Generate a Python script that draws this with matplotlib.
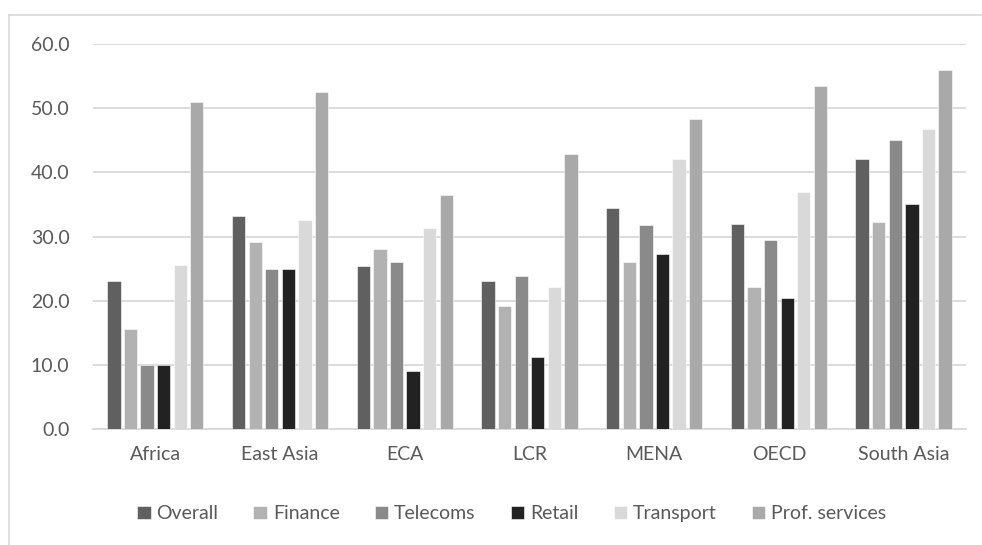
import matplotlib
matplotlib.use("Agg")
import matplotlib.pyplot as plt
import numpy as np
from matplotlib.lines import Line2D

# Regions and sector scores
regions = ["Africa", "East Asia", "ECA", "LCR", "MENA", "OECD", "South Asia"]
overall = [23.0, 33.2, 25.4, 23.0, 34.5, 31.9, 42.0]
finance = [15.6, 29.2, 28.0, 19.1, 26.1, 22.1, 32.3]
telecoms = [10.0, 25.0, 26.1, 23.9, 31.8, 29.5, 45.0]
retail = [10.0, 25.0, 9.1, 11.3, 27.2, 20.4, 35.0]
transport = [25.5, 32.6, 31.3, 22.1, 42.0, 36.9, 46.8]
prof_services = [50.9, 52.5, 36.4, 42.9, 48.3, 53.5, 55.9]

series_names = ["Overall", "Finance", "Telecoms", "Retail", "Transport", "Prof. services"]
series_values = [overall, finance, telecoms, retail, transport, prof_services]
colors = ["#606060", "#b2b2b2", "#8a8a8a", "#222222", "#d9d9d9", "#a9a9a9"]

plt.rcParams['font.family'] = ['Lato', 'DejaVu Sans']
text_color = "#595959"

fig = plt.figure(figsize=(9.82, 5.45), dpi=100)
ax = fig.add_axes([0.0947, 0.2128, 0.889, 0.7065])

x = np.arange(len(regions))
step = 0.133
width = 0.107
for i, (name, vals, col) in enumerate(zip(series_names, series_values, colors)):
    offs = (i - 2.5) * step
    ax.bar(x + offs, vals, width=width, color=col, label=name,
           edgecolor="white", linewidth=0.4, zorder=3)

ax.set_ylim(0, 60)
ax.set_xlim(-0.5, len(regions) - 0.5)
ax.set_yticks(np.arange(0, 61, 10))
ax.set_yticklabels(["%.1f" % v for v in np.arange(0, 61, 10)])
ax.set_xticks(x)
ax.set_xticklabels(regions)
ax.yaxis.grid(True, color="#d9d9d9", linewidth=1.3, zorder=0)
ax.set_axisbelow(True)
for s in ["top", "right", "left"]:
    ax.spines[s].set_visible(False)
ax.spines["bottom"].set_color("#d9d9d9")
ax.spines["bottom"].set_linewidth(1.3)
ax.tick_params(axis="both", length=0, labelsize=14, colors=text_color)
ax.tick_params(axis="y", pad=17)
ax.tick_params(axis="x", pad=12)

leg = fig.legend(loc="center", bbox_to_anchor=(0.521, 0.057), ncol=6, frameon=False,
                 fontsize=14, handlelength=0.7, handleheight=0.7,
                 handletextpad=0.3, columnspacing=1.8)
for t in leg.get_texts():
    t.set_color(text_color)

# chart area border (only left and top edges visible in the crop)
fig.lines.append(Line2D([0.0092, 0.0092], [0.0, 0.9725], transform=fig.transFigure,
                        color="#d9d9d9", linewidth=1.2))
fig.lines.append(Line2D([0.0092, 1.0], [0.9725, 0.9725], transform=fig.transFigure,
                        color="#d9d9d9", linewidth=1.2))

fig.savefig("out.png", dpi=100)
